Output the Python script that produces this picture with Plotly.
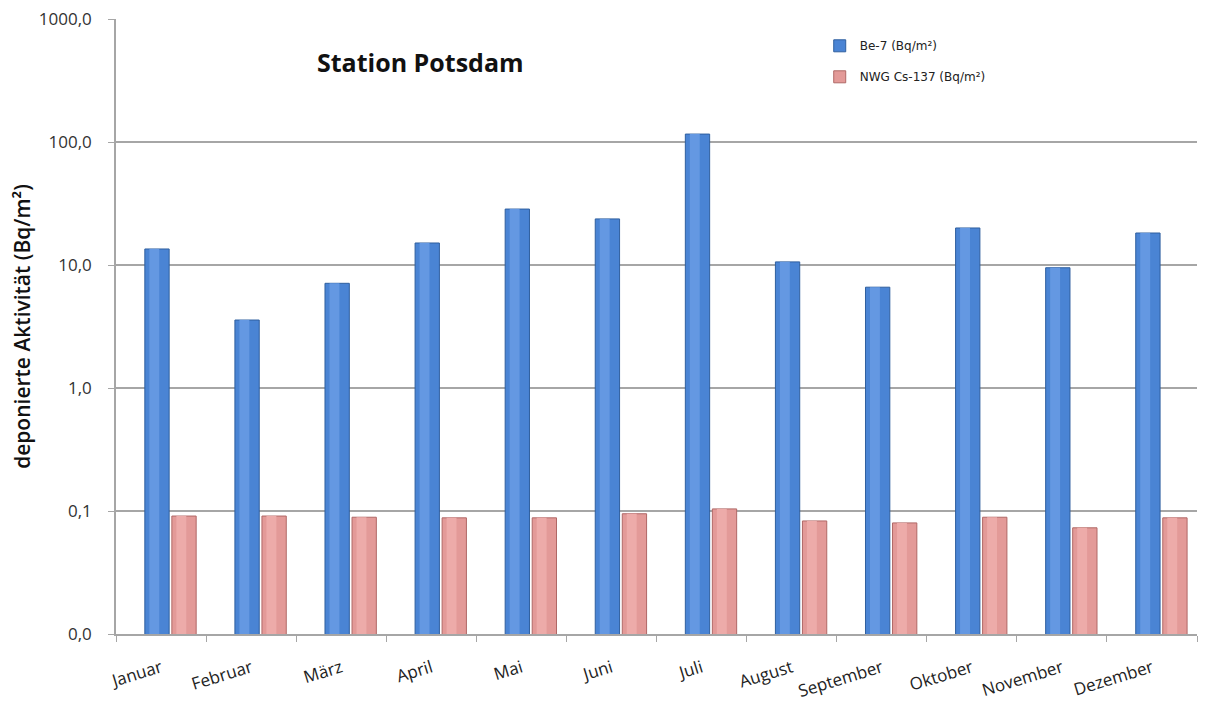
import plotly.graph_objects as go

months = ["Januar", "Februar", "März", "April", "Mai", "Juni", "Juli",
          "August", "September", "Oktober", "November", "Dezember"]
be7 = [13.5, 3.57, 7.1, 15.1, 28.5, 23.7, 116.0, 10.6, 6.6, 20.0, 9.5, 18.2]
cs137 = [0.091, 0.091, 0.089, 0.088, 0.088, 0.095, 0.104, 0.083, 0.080, 0.089, 0.073, 0.088]
y_tickvals = [0.01, 0.1, 1, 10, 100, 1000]
y_ticktext = ["0,0", "0,1", "1,0", "10,0", "100,0", "1000,0"]

font_family = "Open Sans, Lato, DejaVu Sans, sans-serif"
legend_family = "DejaVu Sans, Verdana, sans-serif"

fig = go.Figure()
fig.add_trace(go.Bar(
    x=months, y=be7, name="Be-7 (Bq/m²)",
    marker=dict(color="#4A84D4", line=dict(color="#2F5F9F", width=1)),
    width=0.27, offset=-0.18, legendgroup="a",
))
fig.add_trace(go.Bar(
    x=months, y=cs137, name="NWG Cs-137 (Bq/m²)",
    marker=dict(color="#E39A98", line=dict(color="#B06866", width=1)),
    width=0.27, offset=0.12, legendgroup="b",
))
# cylinder highlight strips (same data, narrower, lighter)
fig.add_trace(go.Bar(
    x=months, y=be7, showlegend=False, hoverinfo="skip",
    marker=dict(color="#6498E2", line=dict(width=0)),
    width=0.11, offset=-0.13,
))
fig.add_trace(go.Bar(
    x=months, y=cs137, showlegend=False, hoverinfo="skip",
    marker=dict(color="#EDABA9", line=dict(width=0)),
    width=0.11, offset=0.17,
))

fig.update_layout(
    width=1213, height=704,
    margin=dict(l=108, r=24, t=11, b=78, autoexpand=False),
    paper_bgcolor="white", plot_bgcolor="white",
    separators=",.",
    showlegend=True,
    barmode="overlay",
    legend=dict(
        x=0.651, y=0.98, xanchor="left", yanchor="top",
        font=dict(family=legend_family, size=12, color="#222"),
        tracegroupgap=12, bgcolor="rgba(0,0,0,0)",
        itemwidth=30,
    ),
    font=dict(family=font_family, color="#222"),
    annotations=[dict(
        text="<b>Station Potsdam</b>", x=0.184, y=0.93, xref="paper", yref="paper",
        xanchor="left", yanchor="middle", showarrow=False,
        font=dict(family=font_family, size=25, color="#111"),
    )],
)

fig.update_yaxes(
    type="log", range=[-2, 3], automargin=False,
    tickvals=y_tickvals, ticktext=y_ticktext,
    tickfont=dict(family=font_family, size=17, color="#333"),
    ticklabelstandoff=13, ticklabeloverflow="allow",
    showgrid=True, gridcolor="#A6A6A6", gridwidth=1.5,
    showline=True, linecolor="#A6A6A6", linewidth=1.5,
    ticks="outside", ticklen=6, tickcolor="#A6A6A6",
    zeroline=False,
    title=dict(text="deponierte Aktivität (Bq/m²)",
               font=dict(family=font_family, size=21, color="#111", weight=600), standoff=20),
)
fig.update_xaxes(
    tickangle=-17, automargin=False,
    tickfont=dict(family=font_family, size=17, color="#222"),
    ticklabelstandoff=16, ticklabeloverflow="allow",
    showline=True, linecolor="#A6A6A6", linewidth=1.5,
    ticks="outside", ticklen=6, tickcolor="#A6A6A6",
    tickson="boundaries",
    showgrid=False,
)

fig.write_html("out.html")
